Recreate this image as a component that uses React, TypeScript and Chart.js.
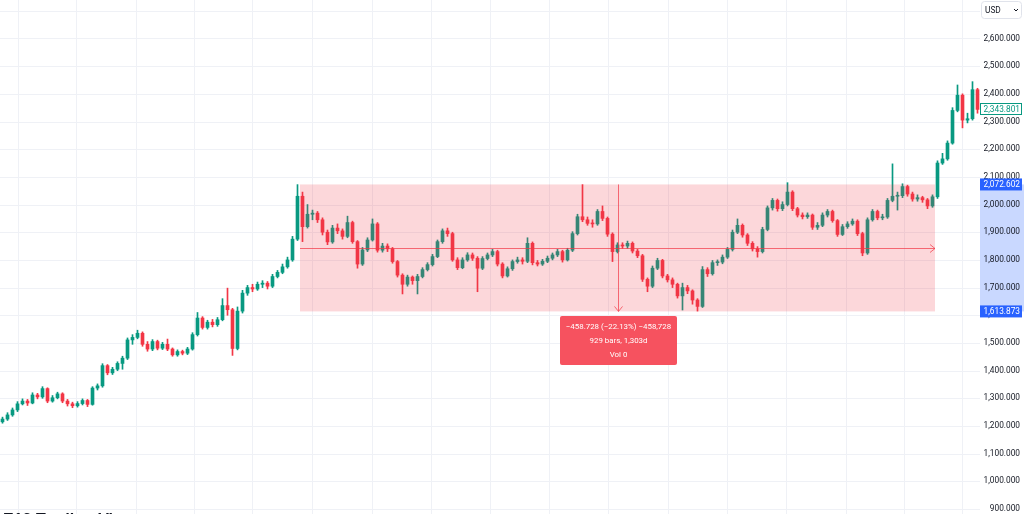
import React, { useEffect, useRef } from "react";
import { Chart, registerables } from "chart.js";

Chart.register(...registerables);

// ---- Data (weekly-ish candles) ----
const FIRST_OPEN = 1215;
const CLOSES = [
  1225, 1240, 1258, 1280, 1290, 1283, 1312, 1305, 1335, 1290,
  1302, 1316, 1290, 1280, 1273, 1281, 1292, 1278, 1337, 1345,
  1418, 1392, 1405, 1426, 1445, 1511, 1520, 1535, 1495, 1478,
  1505, 1481, 1495, 1478, 1457, 1469, 1463, 1478, 1530, 1590,
  1556, 1575, 1566, 1584, 1635, 1620, 1480, 1615, 1680, 1700,
  1695, 1712, 1716, 1705, 1740, 1755, 1775, 1800, 1875, 2030,
  1920, 1965, 1969, 1945, 1900, 1865, 1915, 1905, 1885, 1935,
  1866, 1785, 1836, 1872, 1930, 1835, 1850, 1840, 1794, 1745,
  1712, 1738, 1725, 1740, 1765, 1783, 1812, 1866, 1905, 1895,
  1800, 1772, 1800, 1818, 1806, 1770, 1805, 1818, 1830, 1785,
  1742, 1768, 1794, 1800, 1795, 1860, 1790, 1785, 1795, 1806,
  1818, 1830, 1800, 1835, 1895, 1956, 1945, 1932, 1930, 1975,
  1950, 1893, 1830, 1854, 1850, 1860, 1832, 1815, 1730, 1705,
  1770, 1798, 1742, 1728, 1712, 1670, 1700, 1688, 1655, 1632,
  1765, 1750, 1790, 1792, 1810, 1838, 1900, 1925, 1890, 1860,
  1840, 1830, 1910, 1988, 2015, 1985, 2000, 2045, 1985, 1962,
  1956, 1962, 1918, 1925, 1962, 1975, 1942, 1892, 1920, 1930,
  1940, 1895, 1825, 1945, 1975, 1952, 1955, 2015, 2030, 2032,
  2065, 2038, 2020, 2025, 2017, 1995, 2028, 2150, 2165, 2222,
  2340, 2395, 2305, 2310, 2415, 2343.801,
];
const HIGHS = [
  1232, 1248, 1265, 1288, 1298, 1296, 1320, 1318, 1342, 1338,
  1310, 1322, 1320, 1296, 1286, 1288, 1298, 1296, 1342, 1352,
  1425, 1422, 1412, 1432, 1452, 1518, 1530, 1546, 1540, 1505,
  1512, 1510, 1502, 1514, 1482, 1475, 1474, 1484, 1537, 1610,
  1595, 1582, 1585, 1592, 1660, 1698, 1625, 1630, 1690, 1708,
  1712, 1720, 1725, 1722, 1748, 1762, 1785, 1810, 1885, 2072,
  2045, 2000, 1980, 1975, 1952, 1908, 1925, 1930, 1912, 1958,
  1940, 1870, 1845, 1880, 1948, 1935, 1860, 1858, 1845, 1798,
  1750, 1745, 1742, 1748, 1772, 1790, 1820, 1872, 1912, 1915,
  1900, 1808, 1808, 1826, 1825, 1812, 1812, 1825, 1838, 1835,
  1790, 1775, 1800, 1810, 1808, 1880, 1865, 1798, 1802, 1814,
  1825, 1838, 1835, 1842, 1902, 1965, 2072, 1955, 1945, 1982,
  1995, 1955, 1898, 1862, 1862, 1868, 1865, 1838, 1820, 1735,
  1778, 1806, 1802, 1748, 1735, 1716, 1716, 1708, 1692, 1660,
  1776, 1772, 1798, 1800, 1818, 1845, 1908, 1948, 1930, 1895,
  1866, 1848, 1918, 1995, 2022, 2020, 2010, 2079, 2050, 1990,
  1970, 1970, 1966, 1935, 1970, 1982, 1980, 1946, 1928, 1938,
  1948, 1945, 1900, 1952, 1982, 1980, 1965, 2022, 2147, 2045,
  2075, 2070, 2045, 2035, 2030, 2022, 2035, 2158, 2185, 2230,
  2350, 2432, 2400, 2330, 2444, 2420,
];
const LOWS = [
  1210, 1220, 1235, 1252, 1276, 1274, 1280, 1298, 1300, 1284,
  1286, 1298, 1284, 1272, 1266, 1268, 1276, 1270, 1275, 1330,
  1340, 1385, 1386, 1400, 1405, 1440, 1495, 1515, 1488, 1470,
  1472, 1475, 1476, 1472, 1452, 1452, 1457, 1458, 1474, 1525,
  1550, 1550, 1558, 1560, 1580, 1600, 1455, 1475, 1608, 1672,
  1685, 1690, 1700, 1695, 1700, 1735, 1750, 1770, 1795, 1870,
  1866, 1915, 1945, 1935, 1890, 1855, 1860, 1895, 1875, 1880,
  1860, 1770, 1780, 1830, 1868, 1828, 1828, 1830, 1788, 1738,
  1677, 1705, 1712, 1677, 1735, 1760, 1778, 1808, 1860, 1885,
  1795, 1765, 1768, 1795, 1798, 1685, 1765, 1800, 1812, 1778,
  1735, 1738, 1762, 1788, 1785, 1790, 1782, 1778, 1780, 1790,
  1800, 1812, 1792, 1796, 1830, 1890, 1938, 1925, 1918, 1925,
  1942, 1885, 1794, 1825, 1842, 1842, 1825, 1808, 1722, 1685,
  1700, 1765, 1735, 1720, 1700, 1662, 1619, 1678, 1640, 1615,
  1628, 1740, 1745, 1780, 1786, 1805, 1832, 1895, 1882, 1852,
  1832, 1810, 1825, 1905, 1980, 1976, 1978, 1995, 1978, 1955,
  1948, 1950, 1910, 1910, 1920, 1955, 1936, 1885, 1888, 1914,
  1925, 1888, 1815, 1820, 1940, 1945, 1945, 1950, 2010, 1980,
  2025, 2030, 2012, 2012, 2008, 1985, 1990, 2022, 2145, 2160,
  2218, 2335, 2277, 2295, 2305, 2330,
];

const PRICE_TICKS = [900, 1000, 1100, 1200, 1300, 1400, 1500, 1600, 1700, 1800, 1900, 2000, 2100, 2200, 2300, 2400, 2500, 2600];
const GRID_PRICES = [900, 1000, 1100, 1200, 1300, 1400, 1500, 1600, 1700, 1800, 1900, 2000, 2100, 2200, 2300, 2400, 2500, 2600, 2700];
// time-division gridlines, in bar-index units
const GRID_BARS = [3.1, 14.7, 26.7, 38.3, 49.9, 61.9, 73.9, 85.7, 97.5, 109.3, 121.1, 133.1, 144.9, 156.7, 168.7, 180.3, 191.9];

const MEASURE_START_BAR = 59.5;
const MEASURE_END_BAR = 186.5;
const MEASURE_HIGH = 2072.602;
const MEASURE_LOW = 1613.873;
const MEASURE_TEXT = ["\u2212458.728 (\u221222.13%) \u2212458,728", "929 bars, 1,303d", "Vol 0"];
const LAST_PRICE = 2343.801;
const CURRENCY = "USD";
const CAPTION = "E13 Trading View";

const UP = "#089981";
const DOWN = "#F23645";
const FONT = "Roboto, 'Liberation Sans', sans-serif";

const fmt = (v: number) =>
  v.toLocaleString("en-US", { minimumFractionDigits: 3, maximumFractionDigits: 3 });

export default function App() {
  const ref = useRef<HTMLCanvasElement | null>(null);

  useEffect(() => {
    if (!ref.current) return;
    const opens = CLOSES.map((c, i) => (i === 0 ? FIRST_OPEN : CLOSES[i - 1]));
    const colors = CLOSES.map((c, i) => (c >= opens[i] ? UP : DOWN));
    const labels = CLOSES.map((_, i) => String(i));

    const gridPlugin = {
      id: "tvgrid",
      beforeDatasetsDraw(chart: any) {
        const { ctx, chartArea: a, scales } = chart;
        ctx.save();
        ctx.strokeStyle = "#eff1f6";
        ctx.lineWidth = 1;
        ctx.beginPath();
        GRID_PRICES.forEach((p) => {
          const y = Math.round(scales.y.getPixelForValue(p)) + 0.5;
          ctx.moveTo(a.left, y);
          ctx.lineTo(a.right, y);
        });
        GRID_BARS.forEach((b) => {
          const x = Math.round(scales.x.getPixelForValue(b)) + 0.5;
          ctx.moveTo(x, a.top);
          ctx.lineTo(x, a.bottom);
        });
        ctx.stroke();
        ctx.restore();
      },
    };

    const overlayPlugin = {
      id: "tvoverlay",
      afterDatasetsDraw(chart: any) {
        const { ctx, scales } = chart;
        const xs = scales.x.getPixelForValue(MEASURE_START_BAR);
        const xe = scales.x.getPixelForValue(MEASURE_END_BAR);
        const yt = scales.y.getPixelForValue(MEASURE_HIGH);
        const yb = scales.y.getPixelForValue(MEASURE_LOW);
        const ym = Math.round(scales.y.getPixelForValue((MEASURE_HIGH + MEASURE_LOW) / 2)) + 0.5;
        const xm = Math.round((xs + xe) / 2) + 0.5;
        ctx.save();
        ctx.fillStyle = "rgba(242,54,69,0.2)";
        ctx.fillRect(xs, yt, xe - xs, yb - yt);
        ctx.strokeStyle = "rgba(242,54,69,0.7)";
        ctx.lineWidth = 1;
        ctx.beginPath();
        ctx.moveTo(xs, ym);
        ctx.lineTo(xe, ym);
        ctx.moveTo(xe - 5, ym - 4);
        ctx.lineTo(xe, ym);
        ctx.lineTo(xe - 5, ym + 4);
        ctx.moveTo(xm, yt);
        ctx.lineTo(xm, yb);
        ctx.moveTo(xm - 4, yb - 5);
        ctx.lineTo(xm, yb);
        ctx.lineTo(xm + 4, yb - 5);
        ctx.stroke();

        // info label
        const w = 117, h = 49;
        const bx = Math.round(xm - w / 2);
        const by = Math.round(yb + 5);
        ctx.fillStyle = "#F6525F";
        ctx.beginPath();
        (ctx as any).roundRect(bx, by, w, h, 2);
        ctx.fill();
        ctx.fillStyle = "#ffffff";
        ctx.font = `7.9px ${FONT}`;
        ctx.textAlign = "center";
        ctx.textBaseline = "middle";
        MEASURE_TEXT.forEach((t, i) => ctx.fillText(t, xm, by + 11 + i * 14));
        ctx.restore();
      },
      afterDraw(chart: any) {
        const { ctx, scales, chartArea: a, width } = chart;
        const y = scales.y;
        const ax = a.right;
        ctx.save();
        // highlight band on the price scale
        const yt = y.getPixelForValue(MEASURE_HIGH);
        const yb = y.getPixelForValue(MEASURE_LOW);
        ctx.fillStyle = "rgba(41,98,255,0.25)";
        ctx.fillRect(ax, yt, width - ax, yb - yt);

        // tick labels
        ctx.font = `8.3px ${FONT}`;
        ctx.fillStyle = "#131722";
        ctx.textAlign = "right";
        ctx.textBaseline = "middle";
        PRICE_TICKS.forEach((p) => ctx.fillText(fmt(p), 1020, y.getPixelForValue(p)));

        const box = (price: number, fill: string, stroke: string | null, textColor: string) => {
          const cy = y.getPixelForValue(price);
          const bx = ax, bw = width - ax - 2, bh = 12;
          ctx.fillStyle = fill;
          ctx.fillRect(bx, cy - bh / 2, bw, bh);
          if (stroke) {
            ctx.strokeStyle = stroke;
            ctx.lineWidth = 1;
            ctx.strokeRect(bx + 0.5, Math.round(cy - bh / 2) + 0.5, bw - 1, bh - 1);
          }
          ctx.fillStyle = textColor;
          ctx.fillText(fmt(price), 1020, cy + 0.5);
        };
        box(MEASURE_HIGH, "#2962FF", null, "#ffffff");
        box(MEASURE_LOW, "#2962FF", null, "#ffffff");
        box(LAST_PRICE, "#ffffff", UP, UP);

        // currency button
        ctx.fillStyle = "#ffffff";
        ctx.strokeStyle = "#e0e3eb";
        ctx.beginPath();
        (ctx as any).roundRect(981.5, 1.5, 40, 17, 3);
        ctx.fill();
        ctx.stroke();
        ctx.fillStyle = "#131722";
        ctx.textAlign = "left";
        ctx.font = `8.3px ${FONT}`;
        ctx.fillText(CURRENCY, 985, 10.5);
        ctx.strokeStyle = "#131722";
        ctx.beginPath();
        ctx.moveTo(1014, 9);
        ctx.lineTo(1016, 11);
        ctx.lineTo(1018, 9);
        ctx.stroke();
        ctx.restore();
      },
    };

    const chart = new Chart(ref.current, {
      type: "bar",
      data: {
        labels,
        datasets: [
          {
            label: "wick",
            data: LOWS.map((l, i) => [l, HIGHS[i]]) as any,
            backgroundColor: colors,
            barThickness: 1,
            grouped: false,
            borderWidth: 0,
            order: 2,
          } as any,
          {
            label: "body",
            data: opens.map((o, i) => [o, CLOSES[i]]) as any,
            backgroundColor: colors,
            barThickness: 3,
            minBarLength: 1,
            grouped: false,
            borderWidth: 0,
            order: 1,
          } as any,
        ],
      },
      options: {
        animation: false,
        responsive: true,
        maintainAspectRatio: false,
        layout: { padding: { left: 0, right: 44, top: 0, bottom: 0 } },
        plugins: { legend: { display: false }, tooltip: { enabled: false } },
        scales: {
          x: { type: "category", display: false, offset: true, grid: { display: false } },
          y: { type: "linear", display: false, min: 882, max: 2739 },
        },
      },
      plugins: [gridPlugin, overlayPlugin],
    });
    return () => chart.destroy();
  }, []);

  return (
    <div
      style={{
        position: "fixed",
        left: 0,
        top: 0,
        width: 1024,
        height: 514,
        overflow: "hidden",
        background: "#ffffff",
      }}
    >
      <canvas ref={ref} width={1024} height={514} />
      <div
        style={{
          position: "absolute",
          left: 3,
          top: 511,
          font: "bold 16px 'Liberation Sans', Arial, sans-serif",
          color: "#131722",
          whiteSpace: "nowrap",
        }}
      >
        {CAPTION}
      </div>
    </div>
  );
}
